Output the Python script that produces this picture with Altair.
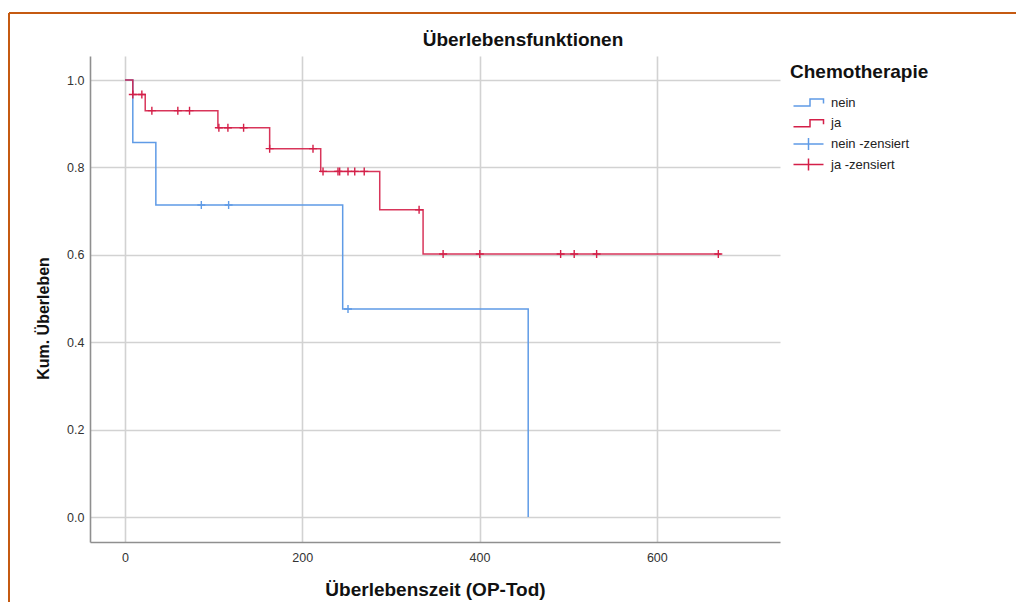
import altair as alt
import pandas as pd

# ---- data ----
nein_time = [0, 8.8, 34.8, 245.6, 454.9]
nein_surv = [1.0, 0.857, 0.714, 0.476, 0.0]
ja_time = [0, 8.8, 22.8, 104.8, 163.2, 220.8, 287.4, 336.3, 672]
ja_surv = [1.0, 0.967, 0.930, 0.891, 0.843, 0.791, 0.703, 0.602, 0.602]

nein_cens_time = [86.1, 116.9, 251.6]
nein_cens_surv = [0.714, 0.714, 0.476]
ja_cens_time = [8.8, 19.0, 30.3, 59.6, 72.8, 105.9, 116.1, 133.8, 163.2, 212.1,
                223.4, 240.3, 242.2, 251.6, 259.2, 269.9, 331.8,
                358.9, 400.3, 491.5, 506.8, 532.1, 669.4]
ja_cens_surv = [0.967, 0.967, 0.930, 0.930, 0.930, 0.891, 0.891, 0.891, 0.843, 0.843,
                0.791, 0.791, 0.791, 0.791, 0.791, 0.791, 0.703,
                0.602, 0.602, 0.602, 0.602, 0.602, 0.602]

legend_labels = ["nein", "ja", "nein -zensiert", "ja -zensiert"]
x_ticks = [0, 200, 400, 600]
y_ticks = [0.0, 0.2, 0.4, 0.6, 0.8, 1.0]
chart_title = "Überlebensfunktionen"
x_title = "Überlebenszeit (OP-Tod)"
y_title = "Kum. Überleben"
legend_title = "Chemotherapie"

BLUE = "#5f9be6"
RED = "#d41f48"
ORANGE = "#c55a11"
FONT = "Liberation Sans"

W, H = 690, 486
PAD = {"left": 82, "top": 48, "right": 236, "bottom": 60}

xscale = alt.Scale(domain=[-39.5, 739], nice=False, zero=False)
yscale = alt.Scale(domain=[-0.057, 1.055], nice=False, zero=False)

nein_df = pd.DataFrame({"t": nein_time, "s": nein_surv})
ja_df = pd.DataFrame({"t": ja_time, "s": ja_surv})
nein_c = pd.DataFrame({"t": nein_cens_time, "s": nein_cens_surv})
ja_c = pd.DataFrame({"t": ja_cens_time, "s": ja_cens_surv})
leg_df = pd.DataFrame({"cat": legend_labels})
one = pd.DataFrame({"a": [0]})

X = alt.X("t:Q", scale=xscale,
          axis=alt.Axis(values=x_ticks, title=x_title, format="d"))
Y = alt.Y("s:Q", scale=yscale,
          axis=alt.Axis(values=y_ticks, title=y_title, format=".1f",
                        titleFontSize=16, titleY=262))

line_nein = alt.Chart(nein_df).mark_line(interpolate="step-after", color=BLUE,
                                         strokeWidth=1.5).encode(x=X, y=Y)
line_ja = alt.Chart(ja_df).mark_line(interpolate="step-after", color=RED,
                                     strokeWidth=1.5, opacity=0.9).encode(x=X, y=Y)

plus_small = "M-1,0L1,0M0,-1L0,1"
cens_nein = alt.Chart(nein_c).mark_point(shape=plus_small, filled=False, color=BLUE,
                                         size=64, strokeWidth=1.4, opacity=1).encode(x=X, y=Y)
cens_ja = alt.Chart(ja_c).mark_point(shape=plus_small, filled=False, color=RED,
                                     size=64, strokeWidth=1.4, opacity=1).encode(x=X, y=Y)

step_sym = "M0,-0.8M0,0.8M-2,0.47L0.2,0.47L0.2,-0.47L2,-0.47L2,0.13"
plus_sym = "M-2,0L2,0M0,-0.8L0,0.8"
leg = alt.Legend(title=legend_title, orient="none", legendX=700, legendY=7,
                 titleFont=FONT, titleFontSize=19, titleFontWeight="bold",
                 titleColor="#111111", titlePadding=12,
                 labelFont=FONT, labelFontSize=13, labelColor="#222222",
                 symbolSize=225, symbolStrokeWidth=1.5, symbolOffset=10,
                 labelOffset=14, rowPadding=1.7, padding=0)
legend_layer = alt.Chart(leg_df).mark_point(filled=False, size=225, strokeWidth=1.5,
                                            opacity=1).encode(
    x=alt.value(-3000), y=alt.value(-3000),
    color=alt.Color("cat:N", scale=alt.Scale(domain=legend_labels,
                                             range=[BLUE, RED, BLUE, RED]), legend=leg),
    shape=alt.Shape("cat:N", scale=alt.Scale(domain=legend_labels,
                                             range=[step_sym, step_sym, plus_sym, plus_sym]),
                    legend=leg),
)

title_layer = alt.Chart(one).mark_text(text=chart_title, font=FONT, fontSize=19,
                                       fontWeight="bold", color="#111111",
                                       align="center", baseline="middle").encode(
    x=alt.value(433), y=alt.value(-16))

frame_top = alt.Chart(one).mark_rule(color=ORANGE, strokeWidth=2).encode(
    x=alt.value(-81), x2=alt.value(W + PAD["right"]), y=alt.value(-43))
frame_left = alt.Chart(one).mark_rule(color=ORANGE, strokeWidth=2).encode(
    x=alt.value(-81), y=alt.value(-43), y2=alt.value(H + PAD["bottom"]))

chart = alt.layer(
    frame_top, frame_left, line_nein, line_ja, cens_nein, cens_ja, legend_layer, title_layer
).properties(
    width=W, height=H,
    autosize=alt.AutoSizeParams(type="none"),
    padding=PAD,
).configure_view(stroke=None).configure_axis(
    grid=True, gridColor="#d2d2d2", gridWidth=1.6,
    domainColor="#8f8f8f", domainWidth=1.6,
    ticks=False, labelFont=FONT, labelFontSize=12.5, labelColor="#333333",
    titleFont=FONT, titleFontSize=19, titleFontWeight="bold", titleColor="#111111",
).configure_axisY(labelPadding=6, titlePadding=15).configure_axisX(
    labelPadding=9, titlePadding=17)

chart.save("out.html", embed_options={"renderer": "svg", "actions": False})
